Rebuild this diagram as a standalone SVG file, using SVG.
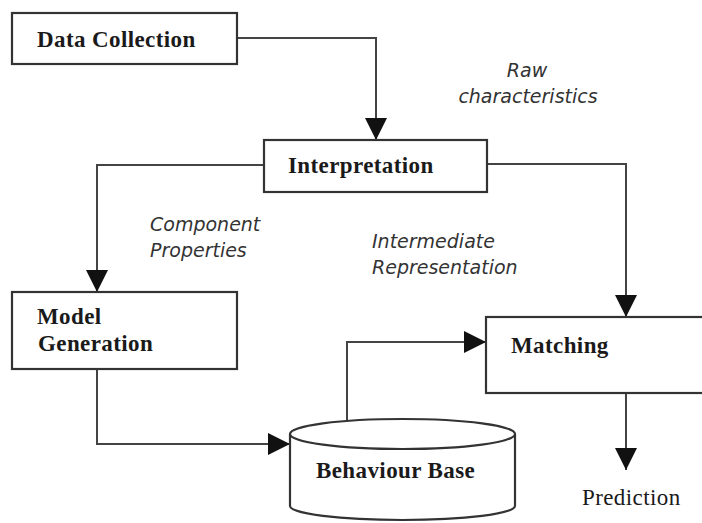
<svg xmlns="http://www.w3.org/2000/svg" width="702" height="523" viewBox="0 0 702 523">
<defs>
<marker id="arrow" markerUnits="userSpaceOnUse" markerWidth="22" markerHeight="22" refX="22" refY="11" orient="auto">
<path d="M0,0 L22,11 L0,22 Z" fill="#111"/>
</marker>
</defs>
<style>
.box{fill:#fff;stroke:#333;stroke-width:2.2}
.lbl{font-family:"Liberation Serif","Times New Roman",serif;font-weight:bold;font-size:23px;letter-spacing:0.4px;fill:#1a1a1a}
.plain{font-family:"Liberation Serif","Times New Roman",serif;font-size:23px;letter-spacing:0.4px;fill:#1a1a1a}
.it{font-family:"DejaVu Sans",sans-serif;font-style:italic;font-size:19px;fill:#333}
.conn{fill:none;stroke:#444;stroke-width:2;marker-end:url(#arrow)}
</style>
<rect width="702" height="523" fill="#fff"/>
<g id="connectors">
<path class="conn" d="M237,38 H376 V140"/>
<path class="conn" d="M264,165 H97 V292"/>
<path class="conn" d="M487,164 H626 V317"/>
<path class="conn" d="M97,369 V444 H290"/>
<path class="conn" d="M347,421 V342 H486"/>
<path class="conn" d="M626,393 V470"/>
</g>
<g id="data-collection">
<rect class="box" x="12" y="13" width="225" height="51"/>
<text class="lbl" x="37" y="47">Data Collection</text>
</g>
<g id="interpretation">
<rect class="box" x="264" y="140" width="223" height="52"/>
<text class="lbl" x="288" y="173">Interpretation</text>
</g>
<g id="model-generation">
<rect class="box" x="12" y="292" width="225" height="77"/>
<text class="lbl" x="37" y="324">Model</text>
<text class="lbl" x="38" y="351">Generation</text>
</g>
<g id="matching">
<rect class="box" x="486" y="317" width="230" height="76"/>
<text class="lbl" x="511" y="353">Matching</text>
</g>
<g id="behaviour-base">
<path class="box" d="M290,434 A112.5,15 0 0,1 515,434 V506 A112.5,14 0 0,1 290,506 Z"/>
<path class="box" d="M290,434 A112.5,15 0 0,0 515,434" fill="none"/>
<text class="lbl" x="316" y="478">Behaviour Base</text>
</g>
<g id="prediction">
<text class="plain" x="582" y="505">Prediction</text>
</g>
<g id="labels">
<text class="it" x="527" y="77" text-anchor="middle">Raw</text>
<text class="it" x="528" y="103" text-anchor="middle">characteristics</text>
<text class="it" x="150" y="231">Component</text>
<text class="it" x="150" y="257">Properties</text>
<text class="it" x="372" y="248">Intermediate</text>
<text class="it" x="372" y="274">Representation</text>
</g>
</svg>
